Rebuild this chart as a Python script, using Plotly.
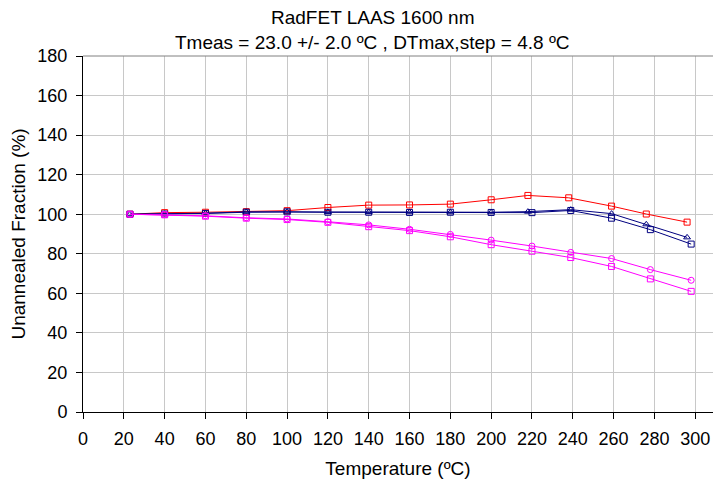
import plotly.graph_objects as go

red_x = [23, 40, 60, 80, 100, 120, 140, 160, 180, 200, 218, 238, 259, 276, 296]
red_y = [100, 100.8, 101, 101.3, 101.8, 103.4, 104.6, 104.7, 105.1, 107.3, 109.5, 108.3, 104.1, 100.1, 96.0]

navy_tri_x = [23, 40, 60, 80, 100, 120, 140, 160, 180, 200, 218, 239, 259, 276, 296]
navy_tri_y = [100, 100.2, 100.5, 101.2, 101.3, 101.1, 101.1, 101.0, 101.0, 101.0, 101.3, 102.3, 100.3, 94.9, 88.3]

navy_sq_x = [23, 40, 60, 80, 100, 120, 140, 160, 180, 200, 220, 239, 259, 278, 298]
navy_sq_y = [100, 100.1, 100.4, 101.0, 101.2, 101.0, 101.0, 100.9, 101.0, 100.9, 100.8, 101.9, 98.0, 92.2, 84.9]

mag_circ_x = [23, 40, 60, 80, 100, 120, 140, 160, 180, 200, 220, 239, 259, 278, 298]
mag_circ_y = [100, 99.8, 99.2, 98.2, 97.6, 96.2, 94.6, 92.4, 89.8, 86.9, 83.9, 80.7, 77.6, 72.0, 66.6]

mag_sq_x = [23, 40, 60, 80, 100, 120, 140, 160, 180, 200, 220, 239, 259, 278, 298]
mag_sq_y = [100, 99.7, 99.0, 98.0, 97.3, 95.9, 93.7, 91.7, 88.6, 84.6, 81.3, 78.1, 73.6, 67.3, 61.0]

x_ticks = list(range(0, 301, 20))
y_ticks = list(range(0, 181, 20))

title_line1 = "RadFET LAAS 1600 nm"
title_line2 = "Tmeas = 23.0 +/- 2.0 ºC , DTmax,step = 4.8 ºC"

series = [
    (red_x, red_y, "#ff0000", "square-open"),
    (navy_sq_x, navy_sq_y, "#000080", "square-open"),
    (navy_tri_x, navy_tri_y, "#000080", "triangle-up-open"),
    (mag_sq_x, mag_sq_y, "#ff00ff", "square-open"),
    (mag_circ_x, mag_circ_y, "#ff00ff", "circle-open"),
]

fig = go.Figure()
for xs, ys, col, sym in series:
    fig.add_trace(go.Scatter(
        x=xs, y=ys, mode="lines+markers",
        line=dict(color=col, width=1),
        marker=dict(symbol=sym, size=6, color=col, line=dict(width=1, color=col)),
        showlegend=False,
    ))

font = "Liberation Sans, Arial, sans-serif"
fig.update_layout(
    width=713, height=482,
    margin=dict(l=83, r=0, t=56, b=70),
    paper_bgcolor="white", plot_bgcolor="white",
    font=dict(family=font, size=18, color="black"),
    xaxis=dict(
        range=[0, 308.7], tickvals=x_ticks, ticktext=[str(v) for v in x_ticks],
        showgrid=True, gridcolor="#c8c8c8", gridwidth=1,
        showline=True, linecolor="black", linewidth=1,
        ticks="outside", ticklen=6, tickcolor="black",
        tickfont=dict(size=18), ticklabelstandoff=4,
        zeroline=False,
        title=dict(text="Temperature (ºC)", standoff=14, font=dict(size=19)),
    ),
    yaxis=dict(
        range=[0, 180], tickvals=y_ticks,
        showgrid=True, gridcolor="#c8c8c8", gridwidth=1,
        showline=True, linecolor="black", linewidth=1,
        ticks="outside", ticklen=6, tickcolor="black",
        tickfont=dict(size=18), ticklabelstandoff=5,
        zeroline=False,
        title=dict(text="Unannealed Fraction (%)", standoff=6, font=dict(size=19)),
    ),
    shapes=[dict(type="line", xref="paper", yref="paper", x0=0, x1=1, y0=1, y1=1,
                 line=dict(color="#808080", width=1))],
    annotations=[
        dict(text=title_line1, xref="paper", yref="paper", x=0.46, y=1.107,
             xanchor="center", yanchor="middle", showarrow=False, font=dict(size=19)),
        dict(text=title_line2, xref="paper", yref="paper", x=0.46, y=1.039,
             xanchor="center", yanchor="middle", showarrow=False, font=dict(size=19)),
    ],
)

fig.write_html("out.html")
